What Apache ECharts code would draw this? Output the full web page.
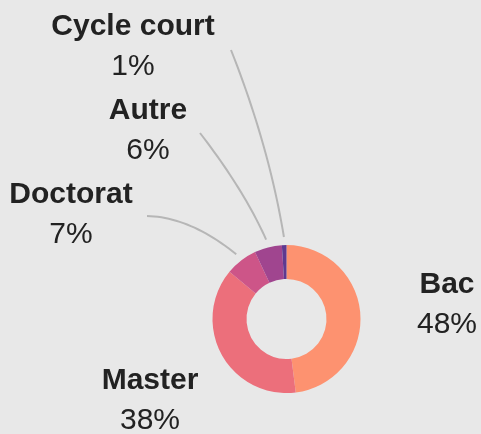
<!DOCTYPE html>
<html><head><meta charset="utf-8">
<script src="https://cdn.jsdelivr.net/npm/echarts@6/dist/echarts.min.js"></script>
<style>html,body{margin:0;padding:0;background:#e8e8e8}#c{width:481px;height:434px}</style>
</head><body><div id="c"></div>
<script>
const categories = ['Bac', 'Master', 'Doctorat', 'Autre', 'Cycle court'];
const values = [48, 38, 7, 6, 1];
const colors = ['#fd9270', '#ec6f7b', '#cd5588', '#a0458f', '#5e3990'];

// presentation-only label placement
const labelPos = {
  'Bac': { x: 447, y: 305 },
  'Master': { x: 150, y: 401 },
  'Doctorat': { x: 71, y: 215, anchor: [147, 216], ctrl: [190, 217] },
  'Autre': { x: 148, y: 131, anchor: [200, 133], ctrl: [244, 190] },
  'Cycle court': { x: 133, y: 47, anchor: [231, 50], ctrl: [269, 146] }
};
const center = [286.5, 319];
const radius = [40, 74];
const lineGap = 8;

function quadPoints(a, c, b, n) {
  const pts = [];
  for (let i = 0; i <= n; i++) {
    const t = i / n, u = 1 - t;
    pts.push([u * u * a[0] + 2 * u * t * c[0] + t * t * b[0],
              u * u * a[1] + 2 * u * t * c[1] + t * t * b[1]]);
  }
  return pts;
}

const chart = echarts.init(document.getElementById('c'), null, { renderer: 'canvas' });
chart.setOption({
  backgroundColor: '#e8e8e8',
  animation: false,
  series: [{
    type: 'pie',
    center: center,
    radius: radius,
    startAngle: 90,
    clockwise: true,
    avoidLabelOverlap: false,
    itemStyle: { borderWidth: 0 },
    label: {
      show: true,
      position: 'outside',
      formatter: '{n|{b}}\n{v|{c}%}',
      rich: {
        n: { fontFamily: 'Liberation Sans, Arial, sans-serif', fontWeight: 'bold', fontSize: 30, lineHeight: 40, color: '#222222', align: 'center' },
        v: { fontFamily: 'Liberation Sans, Arial, sans-serif', fontSize: 30, lineHeight: 40, color: '#222222', align: 'center' }
      }
    },
    labelLine: {
      show: true,
      smooth: 0,
      lineStyle: { color: '#b6b6b6', width: 2 }
    },
    labelLayout: function (p) {
      const L = labelPos[categories[p.dataIndex]];
      const res = { x: L.x, y: L.y, align: 'center', verticalAlign: 'middle' };
      if (L.anchor && p.labelLinePoints) {
        const e = p.labelLinePoints[0];
        const dx = e[0] - center[0], dy = e[1] - center[1];
        const k = (radius[1] + lineGap) / Math.hypot(dx, dy);
        const end = [center[0] + dx * k, center[1] + dy * k];
        res.labelLinePoints = quadPoints(end, L.ctrl, L.anchor, 24);
      }
      return res;
    },
    data: categories.map((name, i) => ({
      name: name,
      value: values[i],
      itemStyle: { color: colors[i] },
      labelLine: { show: !!labelPos[name].anchor }
    }))
  }]
});
</script>
</body></html>
